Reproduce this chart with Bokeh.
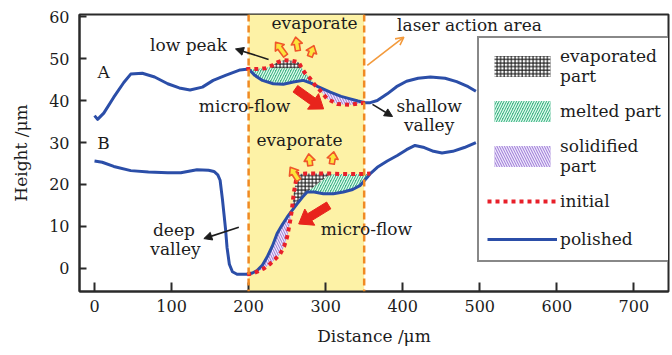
import math

from bokeh.plotting import figure
from bokeh.models import (Arrow, BoxAnnotation, FixedTicker, Label, Legend,
                          LegendItem, NormalHead, OpenHead, Span)
from bokeh.embed import file_html
from bokeh.resources import INLINE

# ---------------------------------------------------------------- data
# Profile A (upper trace): polished surface
a_pol_x = [0, 4, 12, 25, 38, 47, 62, 78, 95, 110, 124, 140, 154, 170, 189, 200,
           208, 218, 232, 245, 258, 271, 280, 286, 290, 306, 320, 332, 342, 351,
           358, 367, 380, 392, 405, 420, 436, 455, 470, 485, 495]
a_pol_y = [36.4, 35.5, 37.0, 40.8, 44.3, 46.3, 46.5, 45.6, 44.0, 43.0, 42.5, 43.2,
           44.8, 46.0, 47.3, 47.5, 46.0, 44.8, 44.0, 43.9, 44.4, 44.8, 44.2, 43.7,
           43.3, 42.0, 41.0, 40.4, 39.9, 39.5, 39.5, 40.0, 41.6, 43.3, 44.6, 45.3,
           45.6, 45.3, 44.5, 43.3, 42.2]
# Profile A: initial surface inside the laser zone
a_ini_x = [197, 210, 222, 230, 237, 246, 256, 265, 269, 273, 280, 286, 291, 302,
           315, 332, 351]
a_ini_y = [47.5, 47.5, 47.7, 48.3, 49.1, 49.6, 49.5, 49.1, 47.7, 46.6, 45.2, 43.7,
           42.8, 40.4, 39.2, 39.0, 39.5]
# Profile A: lower edge of the evaporated cap
a_cap_x = [230, 269]
a_cap_y = [47.7, 47.7]

# Profile B (lower trace): polished surface
b_pol_x = [0, 10, 25, 47, 70, 95, 112, 133, 148, 155, 160, 163, 166, 168, 170, 172,
           175, 179, 185, 198, 205, 211, 218, 224, 231, 237, 244, 250, 256, 263,
           270, 276, 285, 297, 310, 323, 335, 345, 354, 358, 367, 380, 393, 405,
           416, 428, 440, 451, 465, 480, 495]
b_pol_y = [25.6, 25.3, 24.3, 23.3, 23.0, 22.8, 22.8, 23.5, 23.4, 23.1, 22.3, 21.0,
           16.5, 13.0, 9.5, 5.0, 1.0, -0.8, -1.4, -1.4, -1.1, -0.5, 0.8, 2.7, 5.4,
           8.3, 10.5, 12.2, 13.7, 15.4, 17.0, 18.2, 18.2, 17.8, 17.8, 18.2, 18.8,
           19.8, 21.7, 22.6, 24.1, 25.6, 26.9, 28.3, 29.3, 28.8, 27.9, 27.5, 27.9,
           28.8, 30.0]
# Profile B: initial surface inside the laser zone
b_ini_x = [198, 205, 212, 220, 228, 236, 241, 246, 250, 254, 256, 258.5, 261, 263,
           275, 290, 305, 320, 335, 352, 358]
b_ini_y = [-1.4, -1.2, -0.7, 0.0, 1.1, 2.5, 3.5, 5.2, 7.5, 11.4, 13.7, 17.8, 20.4,
           22.5, 22.6, 22.6, 22.6, 22.5, 22.5, 22.5, 22.6]
# Profile B: boundary between evaporated and melted material
b_cap_x = [276, 290, 305]
b_cap_y = [18.2, 20.2, 22.4]

laser_zone = [200, 350]
x_ticks = [0, 100, 200, 300, 400, 500, 600, 700]
y_ticks = [0, 10, 20, 30, 40, 50, 60]

# text notes: (text, x, y, align)
notes = [
    ("evaporate", 285.6, 58.4, "center"),
    ("low peak", 122, 53.3, "center"),
    ("A", 11.7, 46.9, "center"),
    ("micro-flow", 194.7, 38.6, "center"),
    ("shallow", 434.3, 38.6, "center"),
    ("valley", 434.3, 34.1, "center"),
    ("laser action area", 392.7, 57.9, "left"),
    ("B", 11.7, 29.8, "center"),
    ("evaporate", 266, 30.5, "center"),
    ("micro-flow", 353, 9.5, "center"),
    ("deep", 103, 9.05, "center"),
    ("valley", 105, 4.7, "center"),
]
# thin pointer arrows: (x_start, y_start, x_end, y_end)
pointers = [(225.9, 49.8, 183, 52.3), (360.8, 39.1, 386.8, 36.2),
            (187.3, 9.8, 141.9, 7.1)]
laser_pointer = (354, 48.4, 401.5, 55.1)
# material flow (red) and vapour (yellow) arrows: (x_start, y_start, x_end, y_end)
flow_arrows = [(260.7, 42.8, 297.4, 38.0), (304, 15.0, 265, 10.6)]
vapour_arrows = [(248, 50.7, 235, 53.9), (264, 51.9, 261, 55.1),
                 (279.5, 50.5, 284.7, 53.1), (265, 21.0, 254, 24.1),
                 (280, 24.5, 278, 27.3), (308, 24.9, 310.5, 27.8)]

# ---------------------------------------------------------------- layout
W, H = 672, 355
BL, BR, BT, BB = 79, 4, 14, 64
X_RANGE = (-19.5, 745)
Y_RANGE = (-5.5, 60.5)
PX_X = (W - BL - BR) / (X_RANGE[1] - X_RANGE[0])
PX_Y = (H - BT - BB) / (Y_RANGE[1] - Y_RANGE[0])

FONT = "DejaVu Serif"
INK = "#1c1c1c"


def seg(xs, ys, lo, hi):
    return [(x, y) for x, y in zip(xs, ys) if lo <= x <= hi]


def poly(*parts):
    pts = [pt for part in parts for pt in part]
    return [pt[0] for pt in pts], [pt[1] for pt in pts]


def block_arrow(x0, y0, x1, y1, shaft, head_w, head_len):
    """Block arrow outline, sized in screen pixels, returned in data units."""
    dx, dy = (x1 - x0) * PX_X, (y1 - y0) * PX_Y
    L = math.hypot(dx, dy)
    ux, uy = dx / L, dy / L
    nx, ny = -uy, ux
    neck = L - head_len
    pts = [(nx * shaft / 2, ny * shaft / 2),
           (ux * neck + nx * shaft / 2, uy * neck + ny * shaft / 2),
           (ux * neck + nx * head_w / 2, uy * neck + ny * head_w / 2),
           (dx, dy),
           (ux * neck - nx * head_w / 2, uy * neck - ny * head_w / 2),
           (ux * neck - nx * shaft / 2, uy * neck - ny * shaft / 2),
           (-nx * shaft / 2, -ny * shaft / 2)]
    return [x0 + px / PX_X for px, _ in pts], [y0 + py / PX_Y for _, py in pts]


a_cap = list(zip(a_cap_x, a_cap_y))
b_cap = list(zip(b_cap_x, b_cap_y))

evap_a = poly(seg(a_ini_x, a_ini_y, 230, 269), a_cap[::-1])
melt_a = poly(seg(a_ini_x, a_ini_y, 197, 230), a_cap, seg(a_ini_x, a_ini_y, 269, 286),
              seg(a_pol_x, a_pol_y, 197, 286)[::-1])
soli_a = poly(seg(a_pol_x, a_pol_y, 286, 351), seg(a_ini_x, a_ini_y, 286, 351)[::-1])

evap_b = poly(seg(b_ini_x, b_ini_y, 256, 305), b_cap[::-1],
              seg(b_pol_x, b_pol_y, 256, 276)[::-1])
melt_b = poly(b_cap, seg(b_ini_x, b_ini_y, 306, 358), seg(b_pol_x, b_pol_y, 276, 358)[::-1])
soli_b = poly(seg(b_pol_x, b_pol_y, 198, 256), seg(b_ini_x, b_ini_y, 198, 256)[::-1])

# ---------------------------------------------------------------- figure
p = figure(width=W, height=H, x_range=X_RANGE, y_range=Y_RANGE,
           output_backend="svg", toolbar_location=None,
           min_border_left=BL, min_border_right=BR, min_border_top=BT,
           min_border_bottom=BB, background_fill_color="white",
           border_fill_color="white")
p.grid.visible = False
p.outline_line_color = "#2a2a2a"
p.outline_line_width = 2

p.xaxis.ticker = FixedTicker(ticks=x_ticks)
p.yaxis.ticker = FixedTicker(ticks=y_ticks)
p.xaxis.axis_label = "Distance /μm"
p.yaxis.axis_label = "Height /μm"
for ax in (p.xaxis[0], p.yaxis[0]):
    ax.axis_line_color = "#2a2a2a"
    ax.axis_line_width = 2
    ax.major_tick_line_color = "#2a2a2a"
    ax.major_tick_line_width = 2
    ax.major_tick_out = 0
    ax.minor_tick_line_color = None
    ax.major_label_text_font = FONT
    ax.major_label_text_font_size = "16px"
    ax.major_label_text_color = INK
    ax.axis_label_text_font = FONT
    ax.axis_label_text_font_size = "17px"
    ax.axis_label_text_font_style = "normal"
    ax.axis_label_text_color = INK
p.xaxis.major_tick_in = 9
p.yaxis.major_tick_in = 7
p.xaxis.major_label_standoff = 8
p.yaxis.major_label_standoff = 10
p.xaxis.axis_label_standoff = 11
p.yaxis.axis_label_standoff = 15

# laser action area
p.add_layout(BoxAnnotation(left=laser_zone[0], right=laser_zone[1],
                           fill_color="#fdf2a6", fill_alpha=1, line_color=None,
                           level="underlay"))

# material regions
evap = p.patches(xs=[evap_a[0], evap_b[0]], ys=[evap_a[1], evap_b[1]],
                 fill_color="white", line_color=None, hatch_pattern="+",
                 hatch_color="#1a1a1a", hatch_scale=3.6, hatch_weight=1.1)
melt = p.patches(xs=[melt_a[0], melt_b[0]], ys=[melt_a[1], melt_b[1]],
                 fill_color="#45b487", line_color=None, hatch_pattern="/",
                 hatch_color="#e8fff4", hatch_scale=5, hatch_weight=1.2)
soli = p.patches(xs=[soli_a[0], soli_b[0]], ys=[soli_a[1], soli_b[1]],
                 fill_color="#a486d8", line_color=None, hatch_pattern="\\",
                 hatch_color="#f3ecff", hatch_scale=5, hatch_weight=1.2)

# profiles
pol_a = p.line(a_pol_x, a_pol_y, line_color="#2b4ea8", line_width=3, line_join="round")
pol_b = p.line(b_pol_x, b_pol_y, line_color="#2b4ea8", line_width=3, line_join="round")
ini_a = p.line(a_ini_x, a_ini_y, line_color="#e8202a", line_width=4, line_dash="4 4")
ini_b = p.line(b_ini_x, b_ini_y, line_color="#e8202a", line_width=4, line_dash="4 4")

for x in laser_zone:
    p.add_layout(Span(location=x, dimension="height", line_color="#f08a24",
                      line_width=2.5, line_dash="7 4"))

# arrows
for xs0, ys0, xe, ye in pointers:
    p.add_layout(Arrow(x_start=xs0, y_start=ys0, x_end=xe, y_end=ye,
                       line_color=INK, line_width=1.6,
                       end=NormalHead(size=8, fill_color=INK, line_color=INK)))
xs0, ys0, xe, ye = laser_pointer
p.add_layout(Arrow(x_start=xs0, y_start=ys0, x_end=xe, y_end=ye,
                   line_color="#f39a3c", line_width=1.6,
                   end=OpenHead(size=8, line_color="#f39a3c", line_width=1.6)))

fx, fy = zip(*[block_arrow(*a, shaft=8, head_w=19, head_len=13) for a in flow_arrows])
p.patches(xs=list(fx), ys=list(fy), fill_color="#e8241c", line_color="#e8241c",
          line_width=1)
vx, vy = zip(*[block_arrow(*a, shaft=5, head_w=11, head_len=7) for a in vapour_arrows])
p.patches(xs=list(vx), ys=list(vy), fill_color="#fbe43a", line_color="#f0562a",
          line_width=1.6, line_join="round")

for text, x, y, align in notes:
    p.add_layout(Label(x=x, y=y, text=text, text_font=FONT, text_font_size="17px",
                       text_color=INK, text_align=align, text_baseline="middle"))

legend = Legend(
    items=[LegendItem(label="evaporated\npart", renderers=[evap]),
           LegendItem(label="melted part", renderers=[melt]),
           LegendItem(label="solidified\npart", renderers=[soli]),
           LegendItem(label="initial", renderers=[ini_a]),
           LegendItem(label="polished", renderers=[pol_a])],
    location=(398, 29), glyph_width=70, glyph_height=26, label_standoff=3,
    spacing=12, padding=8, margin=0, border_line_color="#111111",
    border_line_width=2, background_fill_color="white", background_fill_alpha=1,
    label_text_font=FONT, label_text_font_size="17px", label_text_color=INK,
    label_text_line_height=1.1)
p.add_layout(legend)

open("out.html", "w").write(file_html(p, INLINE))
